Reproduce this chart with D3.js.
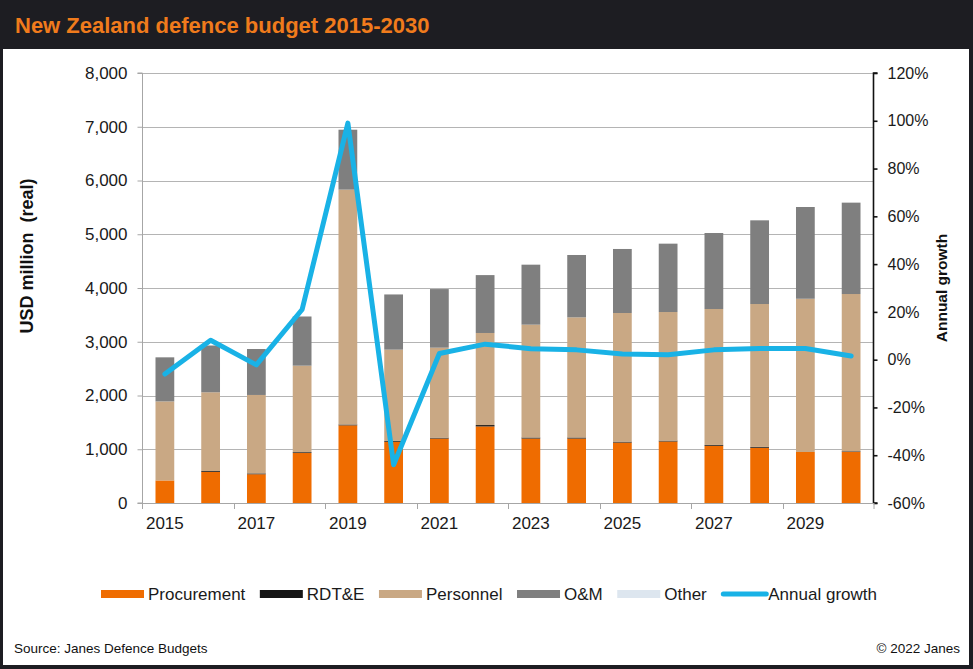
<!DOCTYPE html>
<html>
<head>
<meta charset="utf-8">
<script src="https://cdn.jsdelivr.net/npm/d3@7"></script>
<style>
  html, body { margin: 0; padding: 0; background: #1d1d22; }
  svg { display: block; }
  text { font-family: "Liberation Sans", Arial, Helvetica, sans-serif; }
</style>
</head>
<body>
<svg id="chart" width="973" height="669"></svg>
<script>
// ---- data ----
const years = [2015, 2016, 2017, 2018, 2019, 2020, 2021, 2022, 2023, 2024, 2025, 2026, 2027, 2028, 2029, 2030];
const procurement = [420, 580, 535, 930, 1445, 1140, 1200, 1425, 1200, 1200, 1125, 1145, 1065, 1028, 949, 953];
const rdte        = [0, 15, 15, 15, 15, 15, 15, 25, 18, 18, 16, 15, 15, 15, 0, 10];
const personnel   = [1470, 1465, 1460, 1610, 4370, 1698, 1675, 1713, 2100, 2236, 2394, 2393, 2529, 2659, 2851, 2925];
const om          = [820, 870, 855, 915, 1115, 1027, 1090, 1077, 1116, 1160, 1191, 1272, 1414, 1557, 1707, 1700];
const other       = [0, 0, 0, 0, 0, 0, 0, 0, 0, 0, 0, 0, 0, 0, 0, 0];
const annualGrowth = [-6.0, 8.1, -2.2, 21.0, 99.0, -44.0, 2.6, 6.5, 4.6, 4.1, 2.4, 2.1, 4.1, 4.7, 4.7, 1.5];
const leftTicks = [0, 1000, 2000, 3000, 4000, 5000, 6000, 7000, 8000];
const rightTicks = [-60, -40, -20, 0, 20, 40, 60, 80, 100, 120];
const xLabelYears = [2015, 2017, 2019, 2021, 2023, 2025, 2027, 2029];
const seriesNames = ["Procurement", "RDT&E", "Personnel", "O&M", "Other"];
const seriesColors = ["#ef6c00", "#151515", "#c9a884", "#7f7f7f", "#dde6ef"];
const lineName = "Annual growth";
const lineColor = "#19b2e6";

// ---- layout ----
const svg = d3.select("#chart");
const W = 973, H = 669;
const plot = { left: 142, right: 874, top: 73, bottom: 503 };

// frame
svg.append("rect").attr("x", 0).attr("y", 0).attr("width", W).attr("height", H).attr("fill", "#1d1d22");
svg.append("rect").attr("x", 3).attr("y", 49).attr("width", W - 7).attr("height", H - 53).attr("fill", "#ffffff");

// title
svg.append("text").attr("x", 15).attr("y", 33)
  .attr("fill", "#f07b1c").attr("font-size", 22).attr("font-weight", "bold")
  .text("New Zealand defence budget 2015-2030");

// scales
const x = d3.scaleBand().domain(years).range([plot.left, plot.right]).padding(0);
const y = d3.scaleLinear().domain([0, 8000]).range([plot.bottom, plot.top]);
const y2 = d3.scaleLinear().domain([-60, 120]).range([plot.bottom, plot.top]);
const barW = x.bandwidth() * 0.41;

// gridlines
svg.append("g").selectAll("line").data(leftTicks.filter(d => d > 0)).join("line")
  .attr("x1", plot.left).attr("x2", plot.right - 1)
  .attr("y1", d => Math.round(y(d)) + 0.5).attr("y2", d => Math.round(y(d)) + 0.5)
  .attr("stroke", "#b4b4b4").attr("stroke-width", 1);

// stacked bars
const table = years.map((yr, i) => ({
  year: yr,
  "Procurement": procurement[i], "RDT&E": rdte[i], "Personnel": personnel[i], "O&M": om[i], "Other": other[i]
}));
const stack = d3.stack().keys(seriesNames)(table);
const color = d3.scaleOrdinal().domain(seriesNames).range(seriesColors);
svg.append("g").selectAll("g").data(stack).join("g")
  .attr("fill", d => color(d.key))
  .selectAll("rect").data(d => d).join("rect")
  .attr("x", d => x(d.data.year) + (x.bandwidth() - barW) / 2)
  .attr("width", barW)
  .attr("y", d => y(d[1]))
  .attr("height", d => Math.max(0, y(d[0]) - y(d[1])));

// left axis (grey)
const gL = svg.append("g").attr("transform", `translate(${plot.left + 0.5},0)`)
  .call(d3.axisLeft(y).tickValues(leftTicks).tickSize(5).tickPadding(10).tickFormat(d3.format(",")));
gL.selectAll("path,line").attr("stroke", "#a6a6a6");
gL.select(".domain").attr("d", `M-5,${plot.top}H0V${plot.bottom}H-5`);
gL.selectAll("text").attr("font-size", 17).attr("fill", "#1a1a1a")
  .attr("font-family", "'Liberation Sans', Arial, sans-serif");

// right axis (black)
const gR = svg.append("g").attr("transform", `translate(${plot.right - 0.5},0)`)
  .call(d3.axisRight(y2).tickValues(rightTicks).tickSize(4).tickPadding(10).tickFormat(d => d + "%"));
gR.selectAll("path,line").attr("stroke", "#111").attr("stroke-width", 1.6);
gR.select(".domain").attr("d", `M4,${plot.top}H0V${plot.bottom}H4`);
gR.selectAll("text").attr("font-size", 16).attr("fill", "#1a1a1a")
  .attr("font-family", "'Liberation Sans', Arial, sans-serif");

// bottom axis
const gB = svg.append("g");
gB.append("line").attr("x1", plot.left).attr("x2", plot.right)
  .attr("y1", plot.bottom + 0.5).attr("y2", plot.bottom + 0.5).attr("stroke", "#a6a6a6");
gB.selectAll("line.tick").data(years.filter((d, i) => i % 2 === 0).concat([null])).join("line")
  .attr("class", "tick")
  .attr("x1", d => d === null ? plot.right : Math.round(x(d)) + 0.5)
  .attr("x2", d => d === null ? plot.right : Math.round(x(d)) + 0.5)
  .attr("y1", plot.bottom).attr("y2", plot.bottom + 6)
  .attr("stroke", "#a6a6a6");
gB.selectAll("text").data(xLabelYears).join("text")
  .attr("x", d => x(d) + x.bandwidth() / 2)
  .attr("y", 529)
  .attr("text-anchor", "middle").attr("font-size", 17).attr("fill", "#1a1a1a")
  .text(d => d);

// annual growth line
const line = d3.line()
  .x((d, i) => x(years[i]) + x.bandwidth() / 2)
  .y(d => y2(d));
svg.append("path").datum(annualGrowth)
  .attr("d", line)
  .attr("fill", "none").attr("stroke", lineColor).attr("stroke-width", 5)
  .attr("stroke-linejoin", "round").attr("stroke-linecap", "round");

// axis titles
svg.append("text").attr("transform", "translate(33,256) rotate(-90)")
  .attr("text-anchor", "middle").attr("font-size", 18).attr("font-weight", "bold").attr("fill", "#111")
  .style("white-space", "pre")
  .text("USD million  (real)");
svg.append("text").attr("transform", "translate(947,288) rotate(-90)")
  .attr("text-anchor", "middle").attr("font-size", 15.5).attr("font-weight", "bold").attr("fill", "#111")
  .text("Annual growth");

// legend
const legend = svg.append("g");
const legendItems = seriesNames.map((n, i) => ({ name: n, color: seriesColors[i], type: "bar" }))
  .concat([{ name: lineName, color: lineColor, type: "line" }]);
let lx = 101;
const ly = 594;
legendItems.forEach((it, i) => {
  if (it.type === "bar") {
    legend.append("rect").attr("x", lx).attr("y", ly - 4).attr("width", 43).attr("height", 8).attr("fill", it.color);
  } else {
    legend.append("line").attr("x1", lx + 2).attr("x2", lx + 45).attr("y1", ly).attr("y2", ly)
      .attr("stroke", it.color).attr("stroke-width", 5).attr("stroke-linecap", "round");
  }
  const t = legend.append("text").attr("x", lx + 47).attr("y", ly + 6)
    .attr("font-size", 17).attr("fill", "#1a1a1a").text(it.name);
  lx += 47 + t.node().getComputedTextLength() + 14.5;
});

// footer
svg.append("text").attr("x", 14).attr("y", 653).attr("font-size", 13.5).attr("fill", "#111")
  .text("Source: Janes Defence Budgets");
svg.append("text").attr("x", 960).attr("y", 653).attr("text-anchor", "end").attr("font-size", 13.5).attr("fill", "#111")
  .text("© 2022 Janes");
</script>
</body>
</html>
